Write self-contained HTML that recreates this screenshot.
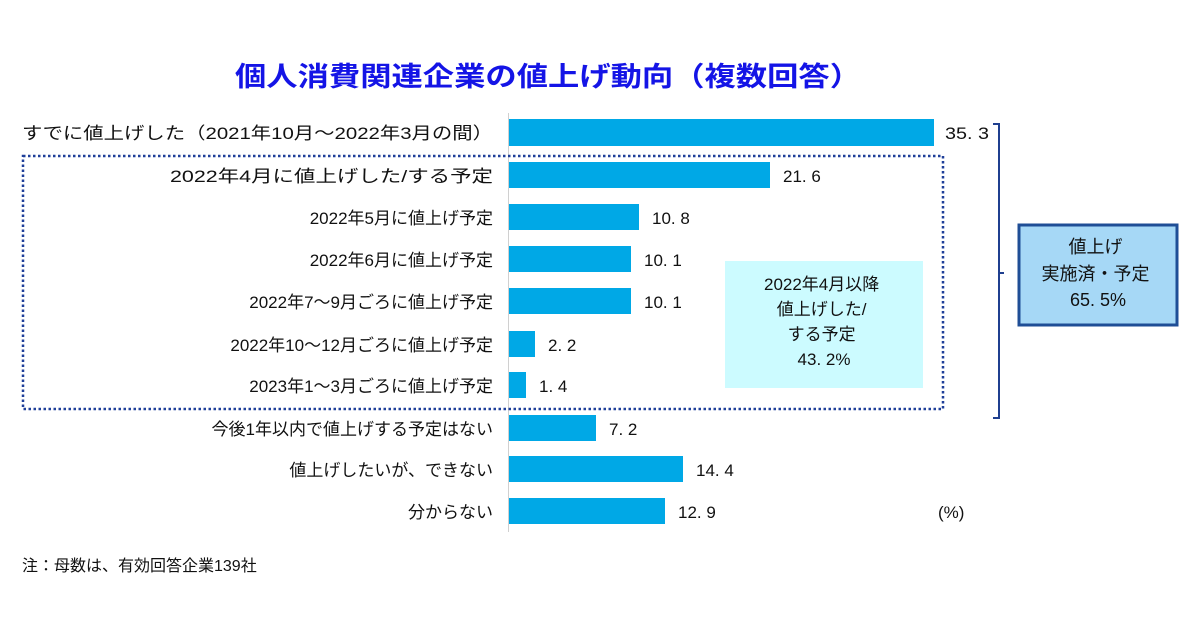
<!DOCTYPE html>
<html><head><meta charset="utf-8"><style>
html,body{margin:0;padding:0;background:#fff;}
svg{display:block;font-family:"Liberation Sans","Noto Sans CJK JP",sans-serif;}
</style></head><body>
<svg width="1200" height="630" viewBox="0 0 1200 630" xmlns="http://www.w3.org/2000/svg">
<rect width="1200" height="630" fill="#fff"/>
<text x="548" y="86" text-anchor="middle" font-size="27" font-weight="bold" fill="#1414e6" textLength="626" lengthAdjust="spacingAndGlyphs">個人消費関連企業の値上げ動向（複数回答）</text>
<rect x="725" y="261" width="198" height="127" fill="#ccfbff"/>
<text font-size="17" fill="#111" text-anchor="middle">
<tspan x="824" y="290">2022年4月以降</tspan>
<tspan x="824" y="315">値上げした/</tspan>
<tspan x="824" y="340">する予定</tspan>
<tspan x="824" y="365">43. 2%</tspan>
</text>
<line x1="508.5" y1="113" x2="508.5" y2="532" stroke="#d0d0d0" stroke-width="1"/>
<g fill="#00a8e6">
<rect x="509" y="119" width="425" height="27"/>
<rect x="509" y="162" width="261" height="26"/>
<rect x="509" y="204" width="130" height="26"/>
<rect x="509" y="246" width="122" height="26"/>
<rect x="509" y="288" width="122" height="26"/>
<rect x="509" y="331" width="26" height="26"/>
<rect x="509" y="372" width="17" height="26"/>
<rect x="509" y="415" width="87" height="26"/>
<rect x="509" y="456" width="174" height="26"/>
<rect x="509" y="498" width="156" height="26"/>
</g>
<g font-size="17" fill="#111">
<text x="945" y="139" textLength="44" lengthAdjust="spacingAndGlyphs">35. 3</text>
<text x="783" y="182">21. 6</text>
<text x="652" y="224">10. 8</text>
<text x="644" y="266">10. 1</text>
<text x="644" y="308">10. 1</text>
<text x="548" y="351">2. 2</text>
<text x="539" y="392">1. 4</text>
<text x="609" y="435">7. 2</text>
<text x="696" y="476">14. 4</text>
<text x="678" y="518">12. 9</text>
<text x="938" y="518">(%)</text>
</g>
<g font-size="17" fill="#111" text-anchor="end">
<text x="493" y="139" textLength="471" lengthAdjust="spacingAndGlyphs">すでに値上げした（2021年10月～2022年3月の間）</text>
<text x="493" y="182" textLength="323" lengthAdjust="spacingAndGlyphs">2022年4月に値上げした/する予定</text>
<text x="493" y="224">2022年5月に値上げ予定</text>
<text x="493" y="266">2022年6月に値上げ予定</text>
<text x="493" y="308">2022年7～9月ごろに値上げ予定</text>
<text x="493" y="351">2022年10～12月ごろに値上げ予定</text>
<text x="493" y="392">2023年1～3月ごろに値上げ予定</text>
<text x="493" y="435">今後1年以内で値上げする予定はない</text>
<text x="493" y="476">値上げしたいが、できない</text>
<text x="493" y="518">分からない</text>
</g>
<rect x="23" y="156" width="920" height="253" fill="none" stroke="#1f3f99" stroke-width="2.5" stroke-dasharray="2.5 2.5"/>
<path d="M993 124 H999 V418 H993 M999 273 H1004" fill="none" stroke="#1f3f8f" stroke-width="2"/>
<rect x="1019" y="225" width="158" height="100" fill="#a6d8f6" stroke="#1f4e96" stroke-width="3"/>
<text font-size="18" fill="#111" text-anchor="middle">
<tspan x="1098" y="253">値上げ</tspan>
<tspan x="1098" y="280">実施済・予定</tspan>
<tspan x="1098" y="306">65. 5%</tspan>
</text>
<text x="22" y="571" font-size="16" fill="#111">注：母数は、有効回答企業139社</text>
</svg>
</body></html>
